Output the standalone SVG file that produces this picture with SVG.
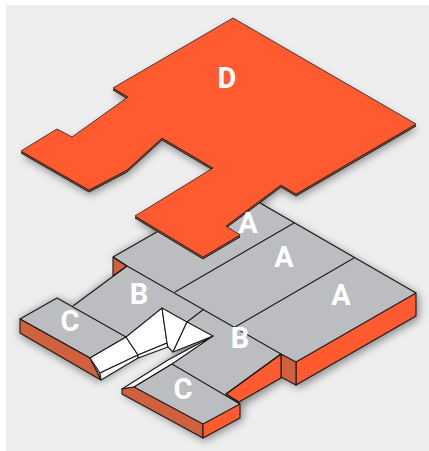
<svg xmlns="http://www.w3.org/2000/svg" width="429" height="451" viewBox="0 0 429 451">
<style>
.e{stroke:#1a1a1a;stroke-width:1.1;stroke-linejoin:round}
.g{fill:#bcbdc1}.o{fill:#ff5a30}.d{fill:#d1603f}.w{fill:#fff}
.l{fill:#fff;font-family:Roboto,"Liberation Sans",sans-serif;font-weight:700;font-size:29px;text-anchor:middle}
.c{fill:none;stroke:#1a1a1a;stroke-width:1.1}
</style>
<defs>
<filter id="s" x="-20%" y="-20%" width="140%" height="140%"><feGaussianBlur stdDeviation="4.5"/></filter>
<polygon id="dshape" points="233,18 416,124 296,194 281,185 226,226 240,235 203,257 135,216 213,168 162,138 127,170 89,190 21,151 57,129 72,137 128,97 113,88"/>
</defs>
<rect width="429" height="451" fill="#fff"/>
<rect x="6" y="5" width="423" height="446" fill="#eee"/>
<g id="shadows" filter="url(#s)" fill="#000" fill-opacity=".42">
<polygon points="234,190 419,295 419,319 299,388 284,380 243,406 243,420 205,441 122,394 172,358 182,335 168,340 100,382 20,336 20,319 57,298 73,306 127,266 113,257"/>
<use href="#dshape" x="1" y="5"/>
</g>
<g id="plate">
<polygon class="g" points="234,188 416,293 296,362 281,354 226,394 240,404 203,424 134,387 172,364 213,336 187,322 162,308 126,337 90,358 20,319 57,298 73,306 127,266 113,257"/>
<polygon class="o e" points="296,362 416,293 416,316 296,385"/>
<polygon class="d e" points="281,354 296,362 296,385 281,377"/>
<polygon class="o e" points="281,354 226,394 239,402 281,378"/>
<polygon class="d e" points="113,257 127,266 113,276"/>
<path class="c" d="M113,257 L234,188 L416,293 M127,266 L113,257 M127,266 L73,306"/>
</g>
<g id="node-C1">
<polygon class="g e" points="57,298 126,337 90,358 20,319"/>
<polygon class="d e" points="20,319 90,358 101,380 20,333"/>
<text class="l" x="70" y="331">C</text>
</g>
<g id="ramp">
<polygon class="w e" points="126,337 90,358 100,373 138,355"/>
<polygon class="w e" points="100,373 138,355 138,358 101,380"/>
<polygon class="w e" points="126,337 162,308 167,343 138,355"/>
<polygon class="w e" points="138,355 167,343 168,347 138,358"/>
<polygon class="w e" points="162,308 187,322 173,352 168,347 167,343"/>
<polygon class="w e" points="187,322 213,336 173,352"/>
<polygon class="w e" points="213,336 168,360 122,389 134,387 172,364"/>
</g>
<g id="node-C2">
<polygon class="g" points="134,387 172,364 240,404 203,424"/>
<polygon class="d e" points="122,389 134,387 203,424 203,438 122,394"/>
<polygon class="o e" points="203,424 240,404 240,418 203,438"/>
<path class="c" d="M172,364 L240,404 M134,387 L172,364"/>
<text class="l" x="183" y="399">C</text>
</g>
<g id="connectors">
<path class="c" d="M127,266 L281,354 M354,258 L235,327 M294,223 L175,292 M204,309 L187,322 M281,354 L226,394 L240,404"/>
</g>
<g id="node-B1"><text class="l" x="139" y="304">B</text></g>
<g id="node-B2"><text class="l" x="240" y="348">B</text></g>
<g id="node-A1"><text class="l" x="341" y="305">A</text></g>
<g id="node-A2"><text class="l" x="284" y="267">A</text></g>
<g id="node-D">
<use href="#dshape" y="2" fill="#8a3f26" stroke="#222" stroke-width="1"/>
<use href="#dshape" class="o" stroke="#222" stroke-width=".8" stroke-linejoin="round"/>
<text class="l" x="227" y="88">D</text>
</g>
<g id="node-A3"><text class="l" x="248" y="233">A</text></g>
</svg>
